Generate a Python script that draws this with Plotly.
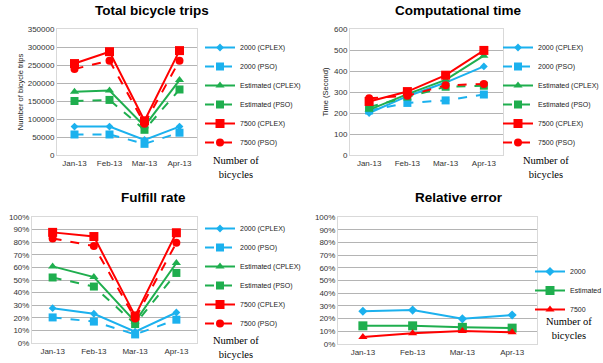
import plotly.graph_objects as go

months = ["Jan-13", "Feb-13", "Mar-13", "Apr-13"]

# Total bicycle trips
trips_2000_cplex = [79000, 79000, 42000, 79000]
trips_2000_pso = [57000, 57000, 31000, 62000]
trips_est_cplex = [176000, 179000, 80000, 208000]
trips_est_pso = [150000, 153000, 70000, 182000]
trips_7500_cplex = [254000, 287000, 95000, 290000]
trips_7500_pso = [239000, 262000, 87000, 262000]

# Computational time (s)
time_2000_cplex = [200, 280, 345, 422]
time_2000_pso = [212, 248, 260, 288]
time_est_cplex = [215, 290, 358, 473]
time_est_pso = [228, 278, 325, 330]
time_7500_cplex = [255, 302, 380, 498]
time_7500_pso = [270, 282, 332, 338]

# Fulfill rate (%)
ful_2000_cplex = [27.6, 23.2, 9.0, 24.2]
ful_2000_pso = [20.3, 17.0, 6.8, 18.5]
ful_est_cplex = [60.8, 52.3, 17.0, 63.5]
ful_est_pso = [52.0, 44.8, 15.0, 55.6]
ful_7500_cplex = [87.8, 84.5, 21.5, 87.5]
ful_7500_pso = [83.0, 77.0, 19.5, 79.5]

# Relative error (%)
err_2000 = [25.8, 26.7, 19.8, 22.8]
err_est = [14.3, 14.3, 13.1, 12.5]
err_7500 = [5.5, 8.5, 10.3, 9.2]

BLUE = "#1BB1EE"
GREEN = "#1FAE4E"
RED = "#FF0000"

six_names = ["2000 (CPLEX)", "2000 (PSO)", "Estimated (CPLEX)", "Estimated (PSO)", "7500 (CPLEX)", "7500 (PSO)"]
six_colors = [BLUE, BLUE, GREEN, GREEN, RED, RED]
six_dash = ["solid", "dash", "solid", "dash", "solid", "dash"]
six_sym = ["diamond", "square", "triangle-up", "square", "square", "circle"]
six_size = [6, 8, 8, 8, 9, 8]

fig = go.Figure()

def add_six(series, xa, ya, leg):
    for name, y, c, d, s, sz in zip(six_names, series, six_colors, six_dash, six_sym, six_size):
        fig.add_trace(go.Scatter(x=months, y=y, name=name, mode="lines+markers",
                                 line=dict(color=c, width=2, dash=d),
                                 marker=dict(color=c, symbol=s, size=sz),
                                 xaxis=xa, yaxis=ya, legend=leg))

add_six([trips_2000_cplex, trips_2000_pso, trips_est_cplex, trips_est_pso, trips_7500_cplex, trips_7500_pso], "x", "y", "legend")
add_six([time_2000_cplex, time_2000_pso, time_est_cplex, time_est_pso, time_7500_cplex, time_7500_pso], "x2", "y2", "legend2")
add_six([[v / 100 for v in a] for a in [ful_2000_cplex, ful_2000_pso, ful_est_cplex, ful_est_pso, ful_7500_cplex, ful_7500_pso]], "x3", "y3", "legend3")

for name, y, c, s, sz in zip(["2000", "Estimated", "7500"], [err_2000, err_est, err_7500],
                             [BLUE, GREEN, RED], ["diamond", "square", "triangle-up"], [7, 9, 8]):
    fig.add_trace(go.Scatter(x=months, y=[v / 100 for v in y], name=name, mode="lines+markers",
                             line=dict(color=c, width=2), marker=dict(color=c, symbol=s, size=sz),
                             xaxis="x4", yaxis="y4", legend="legend4"))

W, H = 603, 363
def px(x0, x1):
    return [x0 / W, x1 / W]
def py(top, bot):
    return [1 - bot / H, 1 - top / H]

tickfont = dict(family="Liberation Sans, Arial", size=8, color="#333")
xcommon = dict(type="category", range=[-0.5, 3.5], showgrid=False, showline=True, linecolor="#D9D9D9",
               mirror=True, ticks="", tickfont=tickfont, fixedrange=True)
ycommon = dict(showgrid=True, gridcolor="#B4B4B4", gridwidth=1, showline=True, linecolor="#D9D9D9",
               mirror=True, ticks="", tickfont=tickfont, zeroline=False, fixedrange=True)

layout = dict(
    width=W, height=H, margin=dict(l=0, r=0, t=0, b=0, autoexpand=False),
    paper_bgcolor="white", plot_bgcolor="white", showlegend=True,
    font=dict(family="Liberation Sans, Arial", color="#333"),
    xaxis=dict(xcommon, domain=px(57, 197), anchor="y"),
    yaxis=dict(ycommon, domain=py(29, 155), anchor="x", range=[0, 350000], dtick=50000, tickformat="d",
               title=dict(text="Number of bicycle trips", font=dict(size=7.5, color="#222"), standoff=3)),
    xaxis2=dict(xcommon, domain=px(350, 503), anchor="y2"),
    yaxis2=dict(ycommon, domain=py(29, 155), anchor="x2", range=[0, 600], dtick=100,
                title=dict(text="Time (Second)", font=dict(size=7.5, color="#222"), standoff=4)),
    xaxis3=dict(xcommon, domain=px(32, 197), anchor="y3"),
    yaxis3=dict(ycommon, domain=py(217, 343), anchor="x3", range=[0, 1], dtick=0.1, tickformat=".0%"),
    xaxis4=dict(xcommon, domain=px(338, 537), anchor="y4"),
    yaxis4=dict(ycommon, domain=py(217, 344), anchor="x4", range=[0, 1], dtick=0.1, tickformat=".0%"),
)

legfont = dict(family="Liberation Sans, Arial", size=7, color="#222")
def leg(x, y):
    return dict(x=x / W, y=1 - y / H, xanchor="left", yanchor="top", font=legfont,
                bgcolor="rgba(0,0,0,0)", tracegroupgap=0, itemwidth=30)
layout["legend"] = leg(200, 33)
layout["legend2"] = leg(498, 33)
layout["legend3"] = leg(200, 214)
layout["legend4"] = leg(530, 257)

fig.update_layout(**layout)

titlefont = dict(family="Liberation Sans, Arial", size=13.5, color="#000")
for text, x, y in [("<b>Total bicycle trips</b>", 152, 11), ("<b>Computational time</b>", 458, 11),
                   ("<b>Fulfill rate</b>", 153, 198), ("<b>Relative error</b>", 459, 198)]:
    fig.add_annotation(text=text, x=x / W, y=1 - y / H, xref="paper", yref="paper",
                       showarrow=False, font=titlefont, xanchor="center", yanchor="middle")

nbfont = dict(family="Liberation Serif, Times New Roman", size=10.5, color="#000")
for x, y in [(211, 167), (521, 167), (211, 347), (544, 328)]:
    fig.add_annotation(text="Number of<br>bicycles", x=x / W, y=1 - y / H, xref="paper", yref="paper",
                       showarrow=False, font=nbfont, xanchor="left", yanchor="middle", align="center")

fig.write_html("out.html", config={"displayModeBar": False},
               post_script="document.body.style.margin='0';document.body.style.padding='0';")
